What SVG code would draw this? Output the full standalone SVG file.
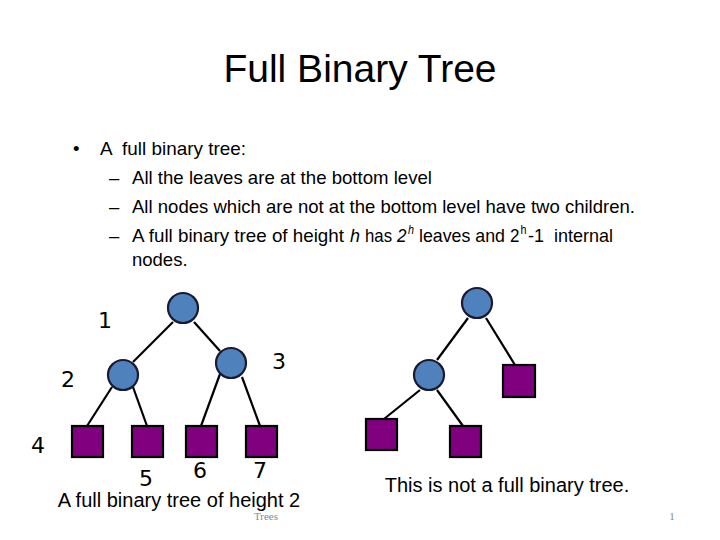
<svg xmlns="http://www.w3.org/2000/svg" width="720" height="540" viewBox="0 0 720 540">
<style>
.title{font-family:"Liberation Sans",Arial,sans-serif;font-size:39px;fill:#000}
.body{font-family:"Liberation Sans",Arial,sans-serif;font-size:18.5px;fill:#000}
.sup{font-family:"Liberation Sans",Arial,sans-serif;font-size:12px;fill:#000}
.it{font-style:italic}
.num{font-family:"DejaVu Sans",Verdana,sans-serif;font-size:22px;fill:#000}
.cap{font-family:"Liberation Sans",Arial,sans-serif;font-size:20px;fill:#000}
.foot{font-family:"Liberation Serif","Times New Roman",serif;font-size:11px;fill:#888}
.inner{fill:#4f81bd;stroke:#1a1a33;stroke-width:2.2}
.leaf{fill:#800080;stroke:#000;stroke-width:2.2}
.edge{stroke:#000;stroke-width:2.2;fill:none}
</style>
<rect width="720" height="540" fill="#fff"/>
<text class="title" x="360" y="82" text-anchor="middle">Full Binary Tree</text>
<g id="bullets">
<text class="body" x="73" y="155">•</text>
<text class="body" x="100" y="155" xml:space="preserve" textLength="146" lengthAdjust="spacingAndGlyphs">A  full binary tree:</text>
<text class="body" x="109" y="184">–</text>
<text class="body" x="132" y="184" textLength="300" lengthAdjust="spacingAndGlyphs">All the leaves are at the bottom level</text>
<text class="body" x="109" y="213">–</text>
<text class="body" x="132" y="213" textLength="503" lengthAdjust="spacingAndGlyphs">All nodes which are not at the bottom level have two children.</text>
<text class="body" x="109" y="242">–</text>
<text class="body" x="132" y="242" textLength="212" lengthAdjust="spacingAndGlyphs">A full binary tree of height</text>
<text class="body it" x="350" y="242" textLength="10" lengthAdjust="spacingAndGlyphs">h</text>
<text class="body" x="365" y="242" textLength="27" lengthAdjust="spacingAndGlyphs">has</text>
<text class="body it" x="397" y="242" textLength="9.5" lengthAdjust="spacingAndGlyphs">2</text>
<text class="sup it" x="408" y="234" textLength="6" lengthAdjust="spacingAndGlyphs">h</text>
<text class="body" x="419" y="242" textLength="86" lengthAdjust="spacingAndGlyphs">leaves and</text>
<text class="body" x="510" y="242" textLength="9.5" lengthAdjust="spacingAndGlyphs">2</text>
<text class="sup" x="520.5" y="234" textLength="6" lengthAdjust="spacingAndGlyphs">h</text>
<text class="body" x="528" y="242" xml:space="preserve" textLength="85" lengthAdjust="spacingAndGlyphs">-1  internal</text>
<text class="body" x="132" y="266">nodes.</text>
</g>
<g id="connectors">
<line class="edge" x1="173" y1="322" x2="133" y2="362"/>
<line class="edge" x1="194" y1="322" x2="220" y2="351"/>
<line class="edge" x1="112" y1="387" x2="87" y2="426"/>
<line class="edge" x1="133" y1="387" x2="147" y2="426"/>
<line class="edge" x1="220" y1="374" x2="201" y2="426"/>
<line class="edge" x1="242" y1="377" x2="260" y2="426"/>
<line class="edge" x1="468" y1="318" x2="437" y2="360"/>
<line class="edge" x1="486" y1="318" x2="515" y2="365"/>
<line class="edge" x1="420" y1="390" x2="384" y2="419"/>
<line class="edge" x1="437" y1="390" x2="463" y2="426"/>
</g>
<g id="n1"><circle class="inner" cx="183" cy="308" r="15"/><text class="num" x="105" y="328" text-anchor="middle">1</text></g>
<g id="n2"><circle class="inner" cx="123" cy="375" r="15"/><text class="num" x="68" y="387" text-anchor="middle">2</text></g>
<g id="n3"><circle class="inner" cx="231" cy="363" r="15"/><text class="num" x="279" y="369" text-anchor="middle">3</text></g>
<g id="n4"><rect class="leaf" x="72" y="426" width="31" height="31"/><text class="num" x="38" y="453" text-anchor="middle">4</text></g>
<g id="n5"><rect class="leaf" x="132" y="426" width="31" height="31"/><text class="num" x="146" y="486" text-anchor="middle">5</text></g>
<g id="n6"><rect class="leaf" x="186" y="426" width="31" height="31"/><text class="num" x="200" y="478" text-anchor="middle">6</text></g>
<g id="n7"><rect class="leaf" x="246" y="426" width="31" height="31"/><text class="num" x="260" y="478" text-anchor="middle">7</text></g>
<g id="m1"><circle class="inner" cx="477" cy="303" r="15"/></g>
<g id="m2"><circle class="inner" cx="429" cy="375" r="15"/></g>
<g id="m3"><rect class="leaf" x="503" y="365" width="32" height="32"/></g>
<g id="m4"><rect class="leaf" x="366" y="419" width="31" height="31"/></g>
<g id="m5"><rect class="leaf" x="450" y="426" width="31" height="31"/></g>
<text class="cap" x="179" y="507" text-anchor="middle">A full binary tree of height 2</text>
<text class="cap" x="507" y="492" text-anchor="middle">This is not a full binary tree.</text>
<text class="foot" x="266" y="520" text-anchor="middle">Trees</text>
<text class="foot" x="672" y="520" text-anchor="middle">1</text>
</svg>
